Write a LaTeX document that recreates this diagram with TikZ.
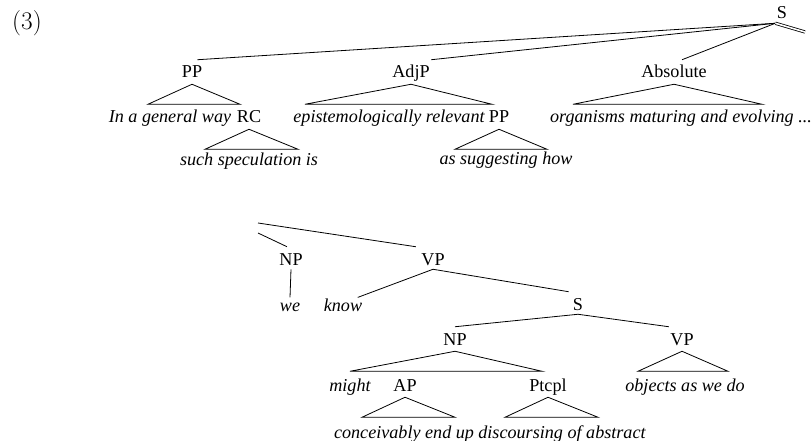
\documentclass[tikz,border=0pt]{standalone}
\usepackage{fontspec}
\newfontfamily\treefont{Liberation Serif}
\usepackage{tikz}
\usetikzlibrary{calc}
\tikzset{
  cat/.style={anchor=base, font=\treefont\fontsize{13.6}{15}\selectfont, inner xsep=1pt, inner ysep=0pt, text height=13.5pt, text depth=3pt},
  word/.style={cat, font=\treefont\itshape\fontsize{13.6}{15}\selectfont, text height=10pt},
  branch/.style={draw, line width=0.6pt},
  contbranch/.style={branch, double, double distance=1.2pt},
}
% triangle under a category: node, reach left, reach right
\newcommand{\roof}[3]{\draw[branch] ([yshift=-1.5pt]#1.south) -- ++(-#2,20) -- ++(#2+#3,0) -- cycle;}

\begin{document}
\begin{tikzpicture}[x=0.75pt, y=-0.75pt]
  \useasboundingbox (0,0) rectangle (812,441);

  % Example number
  \node[font=\fontsize{19}{21}\selectfont] (exnum) at (27,23) {(3)};

  % Upper part of the tree
  \node[cat] (sA) at (782,19) {S};
  \node[cat] (pp1) at (192,78) {PP};
  \node[cat] (adjp) at (411,78) {AdjP};
  \node[cat] (abs) at (674,78) {Absolute};
  \coordinate (contA) at (805,32);

  \node[word] (ingen) at (170,123) {In a general way};
  \node[cat] (rc) at (249,123) {RC};
  \node[word] (spec) at (249,166) {such speculation is};
  \node[word] (epist) at (389,123) {epistemologically relevant};
  \node[cat] (pp2) at (499,123) {PP};
  \node[word] (sugg) at (506,165) {as suggesting how};
  \node[word] (organ) at (681,123) {organisms maturing and evolving ...};

  \draw[branch] (sA.south west) -- ([xshift=4pt]pp1.north);
  \draw[branch] (sA.south west) -- (adjp.north east);
  \draw[branch] (sA.south west) -- ([xshift=6pt]abs.north);
  \draw[contbranch] (sA.south west) -- (contA);

  \roof{pp1}{44}{48}
  \roof{rc}{44}{49}
  \roof{adjp}{106}{81}
  \roof{pp2}{44}{48}
  \roof{abs}{101}{88}

  % Lower part of the tree
  \coordinate (contB) at (258,223);
  \coordinate (contC) at (258,233);
  \node[cat] (np) at (291,265) {NP};
  \node[cat] (vp) at (433,265) {VP};
  \node[word] (we) at (290,311) {we};
  \node[word] (know) at (343,311) {know};
  \node[cat] (sB) at (578,310) {S};
  \node[cat] (np2) at (455,345) {NP};
  \node[cat] (vp2) at (682,345) {VP};
  \node[word] (might) at (350,391) {might};
  \node[cat] (ap) at (405,391) {AP};
  \node[cat] (ptcpl) at (548,391) {Ptcpl};
  \node[word] (objs) at (685,391) {objects as we do};
  \node[word] (conc) at (404,438) {conceivably end up};
  \node[word] (disc) at (562,438) {discoursing of abstract};

  \draw[branch] (contB) -- ([xshift=-3pt]vp.north west);
  \draw[branch] (contC) -- ([xshift=-3pt]np.north);
  \draw[branch] (np.south) -- (we.north);
  \draw[branch] (vp.south) -- ([xshift=-4.5pt]know.north east);
  \draw[branch] (vp.south) -- ([xshift=-2pt]sB.north west);
  \draw[branch] (sB.south) -- (np2.north);
  \draw[branch] (sB.south) -- (vp2.north west);

  \roof{np2}{105}{87}
  \roof{vp2}{44}{46}
  \roof{ap}{43}{50}
  \roof{ptcpl}{43}{50}

\end{tikzpicture}
\end{document}
